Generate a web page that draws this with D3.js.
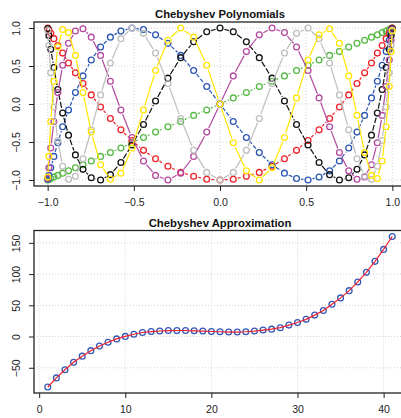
<!DOCTYPE html>
<html>
<head>
<meta charset="utf-8">
<script src="https://cdn.jsdelivr.net/npm/d3@7"></script>
<style>
  body { margin: 0; background: #fff; }
  text { font-family: "Liberation Sans", Arial, sans-serif; fill: #222; }
  .title { font-weight: bold; font-size: 11.3px; fill: #111; }
  .tick-label { font-size: 10.5px; }
</style>
</head>
<body>
<svg id="chart" width="401" height="418"></svg>
<script>
// Chebyshev nodes (41 points), ascending
var nodes = [-0.999,-0.993,-0.982,-0.964,-0.941,-0.913,-0.879,-0.839,-0.795,-0.747,-0.693,-0.636,-0.575,-0.511,-0.444,-0.374,-0.302,-0.228,-0.153,-0.077,0,
  0.077,0.153,0.228,0.302,0.374,0.444,0.511,0.575,0.636,0.693,0.747,0.795,0.839,0.879,0.913,0.941,0.964,0.982,0.993,0.999];

var t1 = [-1,-0.99,-0.98,-0.96,-0.94,-0.91,-0.88,-0.84,-0.8,-0.75,-0.69,-0.64,-0.58,-0.51,-0.44,-0.37,-0.3,-0.23,-0.15,-0.08,0,
  0.08,0.15,0.23,0.3,0.37,0.44,0.51,0.58,0.64,0.69,0.75,0.8,0.84,0.88,0.91,0.94,0.96,0.98,0.99,1];
var t2 = [1,0.97,0.93,0.86,0.77,0.67,0.54,0.41,0.27,0.12,-0.04,-0.19,-0.34,-0.48,-0.61,-0.72,-0.82,-0.9,-0.95,-0.99,-1,
  -0.99,-0.95,-0.9,-0.82,-0.72,-0.61,-0.48,-0.34,-0.19,-0.04,0.12,0.27,0.41,0.54,0.67,0.77,0.86,0.93,0.97,1];
var t3 = [-0.99,-0.94,-0.84,-0.69,-0.51,-0.3,-0.08,0.15,0.37,0.58,0.75,0.88,0.96,1,0.98,0.91,0.8,0.64,0.44,0.23,0,
  -0.23,-0.44,-0.64,-0.8,-0.91,-0.98,-1,-0.96,-0.88,-0.75,-0.58,-0.37,-0.15,0.08,0.3,0.51,0.69,0.84,0.94,0.99];
var t4 = [0.99,0.9,0.72,0.48,0.19,-0.12,-0.41,-0.67,-0.86,-0.97,-1,-0.93,-0.77,-0.54,-0.27,0.04,0.34,0.61,0.82,0.95,1,
  0.95,0.82,0.61,0.34,0.04,-0.27,-0.54,-0.77,-0.93,-1,-0.97,-0.86,-0.67,-0.41,-0.12,0.19,0.48,0.72,0.9,0.99];
var t5 = [-0.98,-0.84,-0.58,-0.23,0.15,0.51,0.8,0.96,0.99,0.88,0.64,0.3,-0.08,-0.44,-0.75,-0.94,-1,-0.91,-0.69,-0.37,0,
  0.37,0.69,0.91,1,0.94,0.75,0.44,0.08,-0.3,-0.64,-0.88,-0.99,-0.96,-0.8,-0.51,-0.15,0.23,0.58,0.84,0.98];
var t6 = [0.97,0.77,0.41,-0.04,-0.48,-0.82,-0.99,-0.95,-0.72,-0.34,0.12,0.54,0.86,1,0.93,0.67,0.27,-0.19,-0.61,-0.9,-1,
  -0.9,-0.61,-0.19,0.27,0.67,0.93,1,0.86,0.54,0.12,-0.34,-0.72,-0.95,-0.99,-0.82,-0.48,-0.04,0.41,0.77,0.97];
var t7 = [-0.96,-0.69,-0.23,0.3,0.75,0.98,0.94,0.64,0.15,-0.37,-0.8,-0.99,-0.91,-0.58,-0.08,0.44,0.84,1,0.88,0.51,0,
  -0.51,-0.88,-1,-0.84,-0.44,0.08,0.58,0.91,0.99,0.8,0.37,-0.15,-0.64,-0.94,-0.98,-0.75,-0.3,0.23,0.69,0.96];

var polySeries = [t1, t2, t3, t4, t5, t6, t7];
var polyColors = ["#55b843", "#ee2128", "#2c55b2", "#111111", "#b4489f", "#bdbdbd", "#ffe600"];
var polyDash = ["2,2", "3,2", "4,2", "6,2", null, null, null];

// approximation values at index 1..41
var approxIndex = d3.range(1, 42);
var approxValues = [-80.8,-66.2,-53.2,-41.2,-31.4,-22.6,-15.1,-9.1,-3.8,0.2,3.7,6.5,8,8.9,9.6,9.7,9.7,9.2,8.8,8.1,7.7,
  7.2,7.2,7.7,8.8,10.4,11.8,14.2,18.3,22.5,27.5,34.3,41.8,51.6,61.9,73.5,87.4,102.8,120.4,139.5,160.2];

var xTicksTop = [-1, -0.5, 0, 0.5, 1];
var yTicksTop = [-1, -0.5, 0, 0.5, 1];
var xTicksBottom = [0, 10, 20, 30, 40];
var yTicksBottom = [-50, 0, 50, 100, 150];

var svg = d3.select("#chart");

function drawFrame(g, x, y, xt, yt, fmt, box, title, titleY) {
	// grid
	g.selectAll(".gx").data(xt).enter().append("line")
		.attr("x1", function(d) { return x(d); }).attr("x2", function(d) { return x(d); })
		.attr("y1", box.top).attr("y2", box.bottom)
		.attr("stroke", "#d3d3d3").attr("stroke-dasharray", "1,2").attr("stroke-width", 1)
	g.selectAll(".gy").data(yt).enter().append("line")
		.attr("y1", function(d) { return y(d); }).attr("y2", function(d) { return y(d); })
		.attr("x1", box.left).attr("x2", box.right)
		.attr("stroke", "#d3d3d3").attr("stroke-dasharray", "1,2").attr("stroke-width", 1)

	var xAxis = d3.axisBottom(x).tickValues(xt).tickSize(5).tickPadding(8).tickFormat(fmt);
	var yAxis = d3.axisLeft(y).tickValues(yt).tickSize(5).tickPadding(3).tickFormat(fmt);
	var ax = g.append("g").attr("transform", "translate(0," + box.bottom + ")").call(xAxis);
	var ay = g.append("g").attr("transform", "translate(" + box.left + ",0)").call(yAxis);
	[ax, ay].forEach(function(a) {
		a.select(".domain").remove();
		a.selectAll("line").attr("stroke", "#222");
		a.selectAll("text").attr("class", "tick-label").attr("fill", "#222");
	});
	ay.selectAll("text")
		.attr("text-anchor", "middle")
		.attr("x", null).attr("dy", null)
		.attr("transform", "translate(-14,0) rotate(-90)");

	g.append("rect")
		.attr("x", box.left).attr("y", box.top)
		.attr("width", box.right - box.left).attr("height", box.bottom - box.top)
		.attr("fill", "none").attr("stroke", "#222").attr("stroke-width", 1.3)

	g.append("text")
		.attr("class", "title")
		.attr("x", (box.left + box.right) / 2)
		.attr("y", titleY)
		.attr("text-anchor", "middle")
		.text(title)
}

// ---- top panel
var boxTop = {left: 34, right: 406, top: 22, bottom: 186};
var xTop = d3.scaleLinear().domain([-1.0793, 1.0793]).range([boxTop.left, boxTop.right]);
var yTop = d3.scaleLinear().domain([-1.0793, 1.0793]).range([boxTop.bottom, boxTop.top]);
var topPanel = svg.append("g");
drawFrame(topPanel, xTop, yTop, xTicksTop, yTicksTop, d3.format(".1f"), boxTop, "Chebyshev Polynomials", 18);

var gap = 4.6;
polySeries.forEach(function(vals, s) {
	var pts = nodes.map(function(d, i) { return [xTop(d), yTop(vals[i])]; });
	var g = topPanel.append("g");
	for (var i = 0; i < pts.length - 1; i++) {
		var a = pts[i], b = pts[i + 1];
		var dx = b[0] - a[0], dy = b[1] - a[1];
		var len = Math.sqrt(dx * dx + dy * dy);
		if (len <= 2 * gap) continue;
		var ux = dx / len, uy = dy / len;
		g.append("line")
			.attr("x1", a[0] + ux * gap).attr("y1", a[1] + uy * gap)
			.attr("x2", b[0] - ux * gap).attr("y2", b[1] - uy * gap)
			.attr("stroke", polyColors[s])
			.attr("stroke-width", 1.2)
			.attr("stroke-dasharray", polyDash[s])
	}
	g.selectAll("circle").data(pts).enter().append("circle")
		.attr("cx", function(d) { return d[0]; })
		.attr("cy", function(d) { return d[1]; })
		.attr("r", 2.9)
		.attr("fill", "none")
		.attr("stroke", polyColors[s])
		.attr("stroke-width", 1.3)
});

// ---- bottom panel
var boxBot = {left: 34, right: 406, top: 230.5, bottom: 393};
var xBot = d3.scaleLinear().domain([-0.6, 42.6]).range([boxBot.left, boxBot.right]);
var yBot = d3.scaleLinear().domain([-90.4, 169.8]).range([boxBot.bottom, boxBot.top]);
var botPanel = svg.append("g");
drawFrame(botPanel, xBot, yBot, xTicksBottom, yTicksBottom, d3.format("d"), boxBot, "Chebyshev Approximation", 226.5);

botPanel.selectAll(".pt").data(approxValues).enter().append("circle")
	.attr("cx", function(d, i) { return xBot(approxIndex[i]); })
	.attr("cy", function(d) { return yBot(d); })
	.attr("r", 2.9)
	.attr("fill", "none")
	.attr("stroke", "#3359b8")
	.attr("stroke-width", 1.3)

var line = d3.line()
	.x(function(d, i) { return xBot(approxIndex[i]); })
	.y(function(d) { return yBot(d); });
botPanel.append("path")
	.datum(approxValues)
	.attr("d", line)
	.attr("fill", "none")
	.attr("stroke", "#f0202c")
	.attr("stroke-width", 1.2)
</script>
</body>
</html>
